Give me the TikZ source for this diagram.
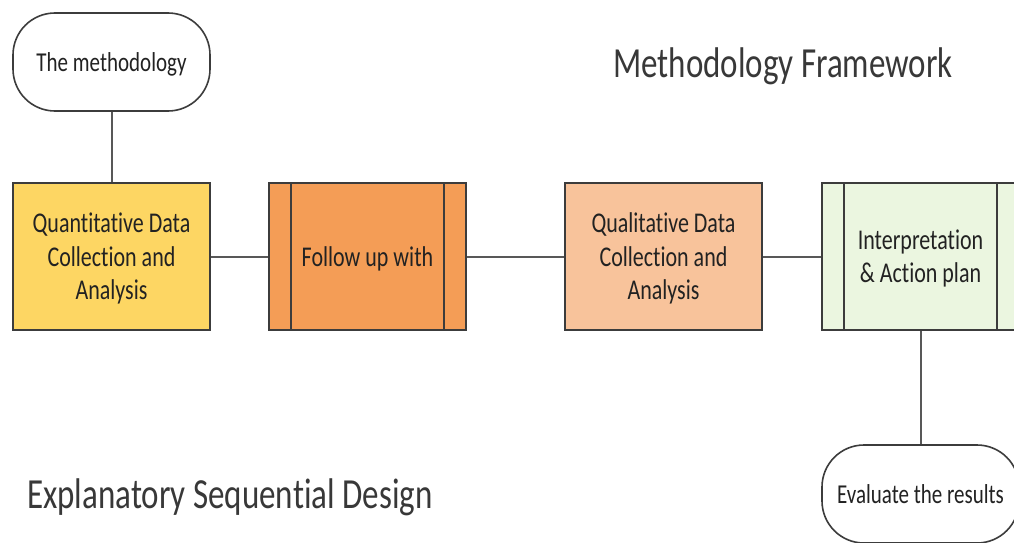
\documentclass[tikz,border=0pt]{standalone}
\usepackage{fontspec}
\usepackage{graphicx}
\setmainfont{Carlito}[Ligatures={NoCommon}]
\usetikzlibrary{shapes.misc}
\definecolor{cYel}{HTML}{FDD663}
\definecolor{cOra}{HTML}{F49D56}
\definecolor{cPea}{HTML}{F8C39B}
\definecolor{cGrn}{HTML}{EBF6E0}
\definecolor{cLine}{HTML}{585858}
\definecolor{cBord}{HTML}{3C3C3C}
\definecolor{cTxt}{HTML}{222222}
\newcommand\stxt[1]{\raisebox{-3pt}[\height][\depth]{\scalebox{1}[1.3]{\begin{tabular}{@{}c@{}}#1\end{tabular}}}}
\begin{document}
\begin{tikzpicture}[x=1pt,y=-1pt,
  boxst/.style={draw=cBord,line width=1.8pt,minimum width=197pt,minimum height=147pt,inner sep=0pt,text=cTxt,font=\fontsize{22}{25.5}\selectfont},
  termst/.style={draw=cBord,line width=1.6pt,rounded corners=42pt,minimum width=197pt,minimum height=98pt,inner sep=0pt,text=cTxt,font=\fontsize{21}{24}\selectfont,fill=white},
  conn/.style={draw=cLine,line width=2pt},
  inner/.style={draw=cBord,line width=1.6pt},
  titlest/.style={inner sep=0pt,text=cTxt!90,font=\fontsize{33}{38}\selectfont}]
\useasboundingbox (0,0) rectangle (1014,543);
\node[termst] (t1) at (111.5,62) {\stxt{The methodology}};
\node[boxst,fill=cYel] (b1) at (111.5,256.5) {\stxt{Quantitative Data\\Collection and\\Analysis}};
\node[boxst,fill=cOra] (b2) at (367.5,256.5) {\stxt{Follow up with}};
\node[boxst,fill=cPea] (b3) at (663.5,256.5) {\stxt{Qualitative Data\\Collection and\\Analysis}};
\node[boxst,fill=cGrn] (b4) at (920.5,256.5) {\stxt{Interpretation\\\& Action plan}};
\node[termst] (t2) at (920.5,494) {\stxt{Evaluate the results}};
\draw[inner] ([xshift=23pt]b2.north west) -- ([xshift=23pt]b2.south west);
\draw[inner] ([xshift=-23pt]b2.north east) -- ([xshift=-23pt]b2.south east);
\draw[inner] ([xshift=23pt]b4.north west) -- ([xshift=23pt]b4.south west);
\draw[inner] ([xshift=-23pt]b4.north east) -- ([xshift=-23pt]b4.south east);
\draw[conn] (t1.south) -- (b1.north);
\draw[conn] (b1.east) -- (b2.west);
\draw[conn] (b2.east) -- (b3.west);
\draw[conn] (b3.east) -- (b4.west);
\draw[conn] (b4.south) -- (t2.north);
\node[titlest] (ttl) at (783,66) {\scalebox{1}[1.3]{Methodology Framework}};
\node[titlest,anchor=west] (sub) at (27,497) {\scalebox{1}[1.3]{Explanatory Sequential Design}};
\end{tikzpicture}
\end{document}
